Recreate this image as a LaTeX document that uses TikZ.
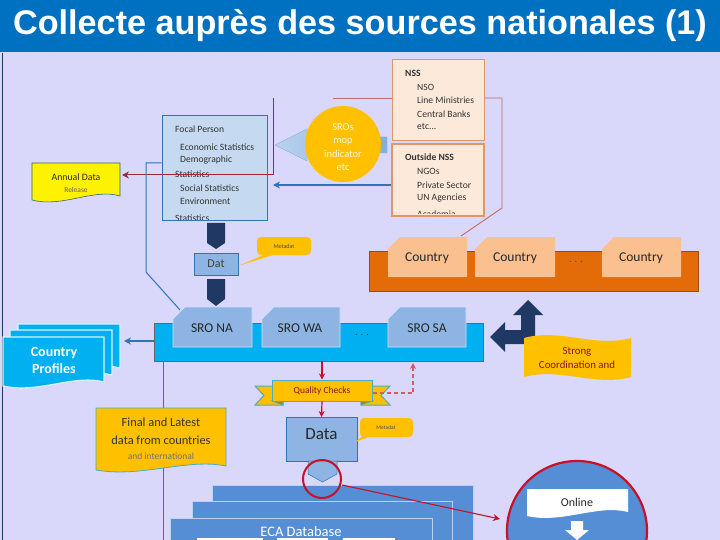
\documentclass[tikz,border=0pt]{standalone}
\usepackage{fontspec}
\setmainfont{Carlito}
\newfontfamily\titlefont{Liberation Sans}
\usetikzlibrary{arrows.meta}
\definecolor{bg}{RGB}{217,215,250}
\definecolor{titlebl}{RGB}{0,112,192}
\definecolor{navy}{RGB}{31,56,100}
\definecolor{peach}{RGB}{253,233,217}
\definecolor{peachline}{RGB}{225,150,105}
\definecolor{lightblue}{RGB}{197,217,241}
\definecolor{midblue}{RGB}{141,180,226}
\definecolor{lineblue}{RGB}{46,117,182}
\definecolor{gold}{RGB}{255,192,0}
\definecolor{orangebar}{RGB}{227,108,9}
\definecolor{tabpeach}{RGB}{250,192,144}
\definecolor{cyanbar}{RGB}{0,176,240}
\definecolor{dbblue}{RGB}{85,142,213}
\definecolor{hired}{RGB}{200,16,40}
\definecolor{brownred}{RGB}{190,110,100}
\definecolor{wine}{RGB}{160,40,60}
\definecolor{tealb}{RGB}{75,172,198}
\definecolor{txtred}{RGB}{140,20,20}
\newcommand\myfs[1]{\fontsize{#1}{#1}\selectfont}
\newcommand\docshape[5]{\path[#5] (#1,#2) -- (#3,#2) -- (#3,#4-4) .. controls ({#3-0.3*(#3-#1)},#4-12) and ({#1+0.35*(#3-#1)},#4+8) .. (#1,#4) -- cycle;}
\newcommand\snipbox[5]{\path[#5] (#1,#4) -- (#1,#2+12) -- (#1+12,#2) -- (#3,#2) -- (#3,#4) -- cycle;}
\begin{document}
\begin{tikzpicture}[x=1pt,y=-1pt,
  smalltxt/.style={inner sep=0pt, text=black!80, font=\myfs{9.6}},
  tabtxt/.style={inner sep=0pt, text=black!85, font=\myfs{13.5}},
  boxblue/.style={draw=lineblue, fill=midblue, line width=0.8pt, inner sep=0pt},
  chev/.style={fill=navy},
  redarrow/.style={draw=hired, line width=1.2pt, -{Stealth[length=6pt,width=6pt]}},
  callout/.style={fill=gold, rounded corners=4pt},
]
\useasboundingbox (0,0) rectangle (720,540);
\clip (0,0) rectangle (720,540);
\fill[bg] (0,0) rectangle (720,540);
\fill[titlebl] (0,0) rectangle (720,52);
\node[anchor=base, inner sep=0pt, text=white, font=\titlefont\bfseries\myfs{34.2}] (title) at (360,35) {Collecte auprès des sources nationales (1)};
\draw[navy, line width=1.5pt] (2.5,53) -- (2.5,540);

% ---------- NSS boxes
\node[draw=peachline, fill=peach, line width=1pt, minimum width=92pt, minimum height=81pt, inner sep=0pt] (nss) at (438,100.5) {};
\node[draw=peachline, fill=peach, line width=1.5pt, minimum width=92pt, minimum height=72pt, inner sep=0pt] (onss) at (438,180) {};
\node[smalltxt, anchor=west, font=\bfseries\myfs{9.6}] (t1) at (405,73) {NSS};
\node[smalltxt, anchor=west] (t2) at (417,87) {NSO};
\node[smalltxt, anchor=west] (t3) at (417,100) {Line Ministries};
\node[smalltxt, anchor=west] (t4) at (417,114) {Central Banks};
\node[smalltxt, anchor=west] (t5) at (417,127) {etc...};
\node[smalltxt, anchor=west, font=\bfseries\myfs{9.6}] (t6) at (405,157) {Outside NSS};
\node[smalltxt, anchor=west] (t7) at (417,171) {NGOs};
\node[smalltxt, anchor=west] (t8) at (417,185) {Private Sector};
\node[smalltxt, anchor=west] (t9) at (417,198) {UN Agencies};
\begin{scope}
\clip (393,144) rectangle (483,214);
\node[smalltxt, anchor=west] (t10) at (417,214) {Academia};
\end{scope}

% bracket line to country
\coordinate (b1) at (502,98);
\coordinate (b2) at (502,208);
\coordinate (b3) at (461,236);
\draw[brownred, line width=0.9pt] (nss.east |- b1) -- (b1) -- (b2) -- (b3);

% ---------- Focal person
\node[draw=lineblue, fill=lightblue, line width=1pt, minimum width=105pt, minimum height=105pt, inner sep=0pt] (focal) at (214.5,168.5) {};
\begin{scope}
\clip (163,117) rectangle (266,220);
\node[smalltxt, anchor=west] (f1) at (175,129) {Focal Person};
\node[smalltxt, anchor=west] (f2) at (180,147) {Economic Statistics};
\node[smalltxt, anchor=west] (f3) at (180,160) {Demographic};
\node[smalltxt, anchor=west] (f4) at (175,174) {Statistics};
\node[smalltxt, anchor=west] (f5) at (180,188) {Social Statistics};
\node[smalltxt, anchor=west] (f6) at (180,201) {Environment};
\node[smalltxt, anchor=west] (f7) at (175,218) {Statistics};
\end{scope}

% big arrow from circle to focal
\path[left color=midblue!60!white, right color=midblue!90!lineblue, draw=lineblue!60, line width=0.4pt]
  (275,145) -- (307,129) -- (307,137) -- (387,137) -- (387,153) -- (307,153) -- (307,161) -- cycle;
% circle
\node[circle, fill=gold, minimum size=76pt, inner sep=0pt] (sros) at (343,144) {};
\node[inner sep=0pt, text=white!85!gold, font=\myfs{10.5}, align=center] (srostxt) at (343,147) {SROs\\[3pt]mop\\[3pt]indicator\\[3pt]etc};

% line from NSS toward left
\coordinate (r1) at (333,98);
\draw[brownred, line width=0.9pt] (r1) -- (r1 -| nss.west);

% arrow Outside NSS -> focal
\coordinate (a1) at (273,185);
\draw[lineblue, line width=1.2pt, -{Stealth[length=7pt,width=7pt]}] (onss.west |- a1) -- (a1);

% ---------- Annual data
\docshape{32}{163}{120}{200}{fill=yellow, draw=tealb!60!black, line width=0.6pt}
\node[inner sep=0pt, text=black!85, font=\myfs{9.8}] (ann1) at (76,177) {Annual Data};
\node[inner sep=0pt, text=black!60, font=\myfs{7.5}] (ann2) at (76,190) {Release};
\coordinate (r2) at (273,98);
\coordinate (annend) at (122,175);
\draw[wine, line width=1pt, -{Stealth[length=7pt,width=7pt]}] (r2) |- (annend);

% blue outline line focal -> SRO NA
\coordinate (l1) at (146,163);
\coordinate (l2) at (146,272);
\coordinate (l3) at (180,310);
\draw[lineblue, line width=1pt] (focal.west |- l1) -- (l1) -- (l2) -- (l3);

% chevrons
\path[chev] (207,223) -- (225,223) -- (225,243) -- (216,249) -- (207,243) -- cycle;
\path[chev] (207,279) -- (225,279) -- (225,299) -- (216,306) -- (207,299) -- cycle;

% Dat box
\node[boxblue, minimum width=44pt, minimum height=22pt, text=black!75, font=\myfs{12}] (dat) at (216,264) {Dat};
\path[callout] (257,237) rectangle (311,255);
\path[fill=gold] (266,254) -- (276,254) -- (238,266) -- cycle;
\node[inner sep=0pt, text=black!70, font=\myfs{6}] (meta1) at (284,246) {Metadat};

% ---------- Country bar
\node[fill=orangebar, draw=orangebar!70!black, line width=0.6pt, minimum width=329pt, minimum height=40pt, inner sep=0pt] (cbar) at (533.5,271) {};
\snipbox{388}{237}{467}{277}{fill=tabpeach}
\snipbox{475}{237}{555}{277}{fill=tabpeach}
\snipbox{602}{237}{681}{277}{fill=tabpeach}
\node[tabtxt] (c1) at (427,258) {Country};
\node[tabtxt] (c2) at (515,258) {Country};
\node[tabtxt] (c3) at (641,258) {Country};
\node[inner sep=0pt, text=black!70, font=\myfs{10}] (cdots) at (576,262) {. . .};

% ---------- SRO bar
\node[fill=cyanbar, draw=black!60, line width=0.6pt, minimum width=329pt, minimum height=38pt, inner sep=0pt] (sbar) at (318.5,342) {};
\snipbox{173}{307}{252}{347}{fill=midblue, draw=white!60!midblue, line width=0.6pt}
\snipbox{262}{307}{340}{347}{fill=midblue, draw=white!60!midblue, line width=0.6pt}
\snipbox{388}{307}{466}{347}{fill=midblue, draw=white!60!midblue, line width=0.6pt}
\node[tabtxt] (s1) at (212,328) {SRO NA};
\node[tabtxt] (s2) at (300,328) {SRO WA};
\node[tabtxt] (s3) at (427,328) {SRO SA};
\node[inner sep=0pt, text=black!80, font=\myfs{10}] (sdots) at (362,335) {. . .};

% ---------- coordination arrow and wave
\path[fill=navy] (490,337) -- (505,322) -- (505,330) -- (521,330) -- (521,315) -- (513,315) -- (528,300) -- (543,315) -- (535,315) -- (535,344) -- (505,344) -- (505,352) -- cycle;
\path[fill=gold] (524,338) .. controls (560,328) and (595,348) .. (631,338) -- (631,377) .. controls (595,387) and (560,367) .. (524,377) -- cycle;
\node[inner sep=0pt, text=txtred, font=\myfs{10.8}, align=center] (strong) at (577,358) {Strong\\[3pt]Coordination and};

% ---------- Country profiles
\docshape{18}{324}{120}{372}{fill=cyanbar, draw=white!85!cyanbar, line width=1.2pt}
\docshape{10}{330}{112}{379}{fill=cyanbar, draw=white!85!cyanbar, line width=1.2pt}
\docshape{3}{337}{104}{386}{fill=cyanbar, draw=white!85!cyanbar, line width=1.2pt}
\node[inner sep=0pt, text=white, font=\bfseries\myfs{14}, align=center] (cp) at (54,360) {Country\\[3pt]Profiles};
\coordinate (cpend) at (124,341);
\draw[lineblue, line width=1.2pt, -{Stealth[length=7pt,width=7pt]}] (sbar.west |- cpend) -- (cpend);

% vertical blue line
\coordinate (v1) at (163,540);
\draw[lineblue, line width=1pt] (sbar.south -| v1) -- (v1);

% ---------- Quality checks ribbon
\path[fill=gold, draw=tealb, line width=1pt] (283,386) -- (255,386) -- (264,395.5) -- (255,405) -- (283,405) -- cycle;
\path[fill=gold, draw=tealb, line width=1pt] (361,386) -- (390,386) -- (381,395.5) -- (390,405) -- (361,405) -- cycle;
\path[fill=gold!70!black, draw=tealb, line width=0.8pt] (272,401) -- (283,405) -- (283,401) -- cycle;
\path[fill=gold!70!black, draw=tealb, line width=0.8pt] (372,401) -- (361,405) -- (361,401) -- cycle;
\node[fill=gold, draw=tealb, line width=1pt, minimum width=100pt, minimum height=21pt, inner sep=0pt] (qc) at (322,390.5) {};
\node[inner sep=0pt, text=txtred, font=\myfs{9.5}] (qctxt) at (322,391) {Quality Checks};
\draw[redarrow] (sbar.south -| qc.north) -- (qc.north);

% dashed return
\coordinate (d1) at (413,393);
\coordinate (d2) at (413,363);
\draw[draw=hired!70!white, line width=1.1pt, dash pattern=on 4pt off 3pt, -{Stealth[length=6pt,width=6pt]}] (qc.east |- d1) -- (d1) -- (d2);

% ---------- Final and latest
\docshape{96}{408}{226}{470}{fill=gold, draw=tealb, line width=0.8pt}
\node[inner sep=0pt, text=black!80, font=\myfs{12.4}] (fl1) at (161,422) {Final and Latest};
\node[inner sep=0pt, text=black!80, font=\myfs{12.4}] (fl2) at (161,440) {data from countries};
\node[inner sep=0pt, text=black!55, font=\myfs{9.5}] (fl3) at (161,456) {and international};

% ---------- Data box
\node[boxblue, minimum width=71pt, minimum height=44pt, anchor=north] (data) at (321.5,417) {};
\node[inner sep=0pt, text=black!85, font=\myfs{17}] (datatxt) at (321.5,434) {Data};
\draw[redarrow] (qc.south) -- (data.north);
\path[callout] (360,418) rectangle (413,437);
\path[fill=gold] (364,435) -- (374,435) -- (355,442) -- cycle;
\node[inner sep=0pt, text=black!70, font=\myfs{5.5}] (meta2) at (386,428) {Metadat};

% ---------- ECA Database
\path[fill=dbblue, draw=white!60!dbblue, line width=0.6pt] (212,485) rectangle (473,545);
\path[fill=dbblue, draw=white!60!dbblue, line width=0.6pt] (192,501) rectangle (452,545);
\path[fill=dbblue, draw=white!60!dbblue, line width=0.6pt] (170,518) rectangle (432,545);
\node[inner sep=0pt, text=white, font=\myfs{14.5}] (eca) at (301,532) {ECA Database};
\fill[white] (197,538) rectangle (263,542);
\fill[white] (277,538) rectangle (328,542);
\fill[white] (343,538) rectangle (395,542);

% small chevron below data and highlight circle
\path[fill=midblue, draw=lineblue, line width=0.5pt] (308,461) -- (337,461) -- (337,474) -- (322.5,482) -- (308,474) -- cycle;
\node[circle, draw=hired, line width=2pt, minimum size=38pt, inner sep=0pt] (hl) at (322,479) {};

% ---------- Online circle
\node[circle, fill=dbblue, draw=hired, line width=2.2pt, minimum size=140pt, inner sep=0pt] (online) at (577,531) {};
\docshape{527}{489}{628}{516}{fill=white}
\node[inner sep=0pt, text=black!85, font=\myfs{12}] (ontxt) at (577,502) {Online};
\path[fill=white] (571,521) -- (583,521) -- (583,530) -- (589,530) -- (577,540) -- (565,530) -- (571,530) -- cycle;
\coordinate (oend) at (500,519);
\draw[draw=hired, line width=1.1pt, -{Stealth[length=7pt,width=7pt]}] (hl.east) ++(0,6) -- (oend);
\end{tikzpicture}
\end{document}
